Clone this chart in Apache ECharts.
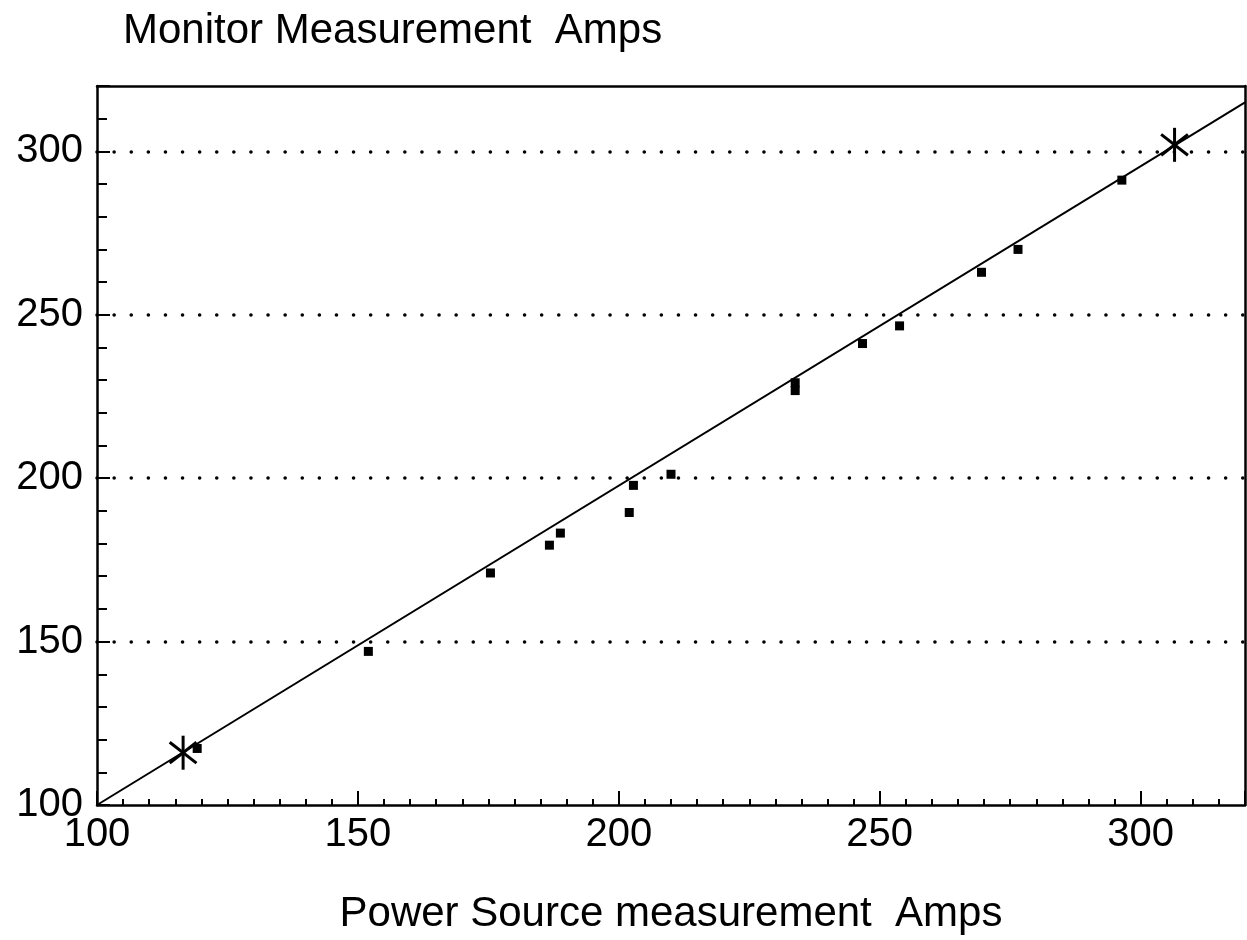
<!DOCTYPE html>
<html>
<head>
<meta charset="utf-8">
<script src="https://cdn.jsdelivr.net/npm/echarts@6/dist/echarts.min.js"></script>
<style>
  html, body { margin: 0; padding: 0; background: #fff; }
  #chart { width: 1247px; height: 940px; }
</style>
</head>
<body>
<div id="chart"></div>
<script>
// Calibration readings: power source current vs. monitor current (A)
const readings = [
  [119.2, 117.3], [152.0, 147.0], [175.4, 171.0], [186.7, 179.5],
  [188.8, 183.2], [202.0, 189.5], [202.8, 197.8], [210.0, 201.2],
  [233.8, 226.8], [233.8, 229.2], [246.7, 241.2], [253.8, 246.6],
  [269.5, 263.0], [276.5, 270.0], [296.4, 291.2]
];
// Reference points used for the calibration line
const referencePoints = [[116.5, 116.0], [306.5, 302.0]];
// Fitted calibration line end points
const fitLine = [[100, 100], [320, 315]];

const xRange = [100, 320];
const yRange = [100, 320];
const tickStep = 50;

const titleText = 'Monitor Measurement  Amps';
const xName = 'Power Source measurement  Amps';

const FONT = '"Liberation Sans", Arial, Helvetica, sans-serif';

const chart = echarts.init(document.getElementById('chart'));

// three crossing bars make up each asterisk
const asteriskArms = [0, 52, -52];

chart.setOption({
  animation: false,
  backgroundColor: '#fff',
  title: {
    text: titleText,
    left: 118,
    top: 5,
    textStyle: { fontFamily: FONT, fontSize: 42, fontWeight: 'normal', color: '#000' }
  },
  grid: {
    left: 97, right: 2, top: 86, bottom: 135,
    show: false
  },
  xAxis: [{
    type: 'value',
    min: xRange[0], max: xRange[1], interval: tickStep,
    name: xName,
    nameLocation: 'middle',
    nameGap: 88,
    nameTextStyle: { fontFamily: FONT, fontSize: 42, color: '#000' },
    axisLine: { show: true, onZero: false, lineStyle: { color: '#000', width: 2.5 } },
    axisTick: { show: true, inside: true, length: 14, lineStyle: { color: '#000', width: 2 } },
    minorTick: { show: true, splitNumber: 10, length: 6, lineStyle: { color: '#000', width: 2 } },
    axisLabel: { fontFamily: FONT, fontSize: 40, color: '#000', margin: 10, showMaxLabel: false },
    splitLine: { show: false }
  }, {
    type: 'value', position: 'top',
    min: xRange[0], max: xRange[1],
    axisLine: { show: true, onZero: false, lineStyle: { color: '#000', width: 2.5 } },
    axisTick: { show: false }, axisLabel: { show: false }, splitLine: { show: false }
  }],
  yAxis: [{
    type: 'value',
    min: yRange[0], max: yRange[1], interval: tickStep,
    axisLine: { show: true, onZero: false, lineStyle: { color: '#000', width: 2.5 } },
    axisTick: { show: true, inside: true, length: 13, lineStyle: { color: '#000', width: 2 } },
    minorTick: { show: true, splitNumber: 5, length: 10, lineStyle: { color: '#000', width: 2 } },
    axisLabel: { fontFamily: FONT, fontSize: 40, color: '#000', margin: 14, showMaxLabel: false },
    splitLine: {
      show: true,
      lineStyle: {
        // no dotted rule along the bottom and top frame edges
        color: ['rgba(0,0,0,0)', '#000', '#000', '#000', '#000', 'rgba(0,0,0,0)'],
        width: 3.5, type: [0.1, 17], cap: 'round'
      }
    }
  }, {
    type: 'value', position: 'right',
    min: yRange[0], max: yRange[1],
    axisLine: { show: true, onZero: false, lineStyle: { color: '#000', width: 2.5 } },
    axisTick: { show: false }, axisLabel: { show: false }, splitLine: { show: false }
  }],
  series: [
    {
      type: 'line',
      data: fitLine,
      symbol: 'none',
      lineStyle: { color: '#000', width: 2 },
      z: 2
    },
    {
      type: 'scatter',
      data: readings,
      symbol: 'rect',
      symbolSize: 9,
      itemStyle: { color: '#000', opacity: 1 },
      z: 3
    }
  ].concat(asteriskArms.map(a => ({
    type: 'scatter',
    data: referencePoints,
    symbol: 'rect',
    symbolSize: [3, 34],
    symbolRotate: a,
    itemStyle: { color: '#000', opacity: 1 },
    z: 4
  })))
});
</script>
</body>
</html>
